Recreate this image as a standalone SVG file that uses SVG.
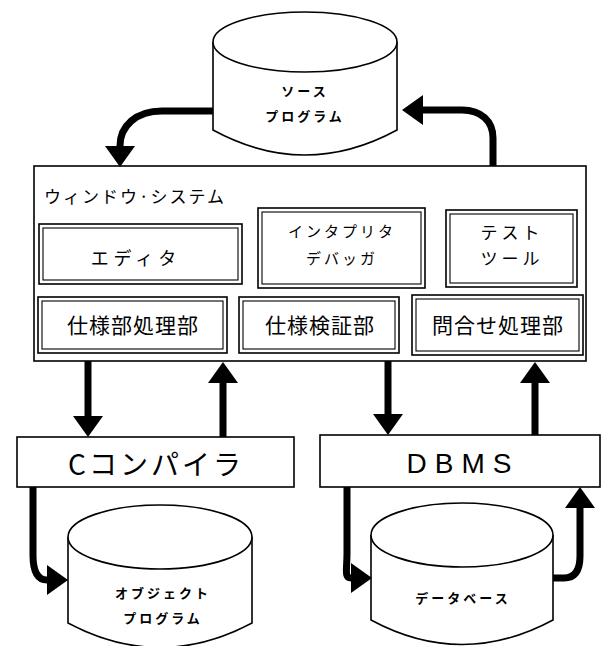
<svg xmlns="http://www.w3.org/2000/svg" width="608" height="646" viewBox="0 0 608 646">
<style>
.ln{fill:#fff;stroke:#000;stroke-width:1.6}
.lnn{fill:none;stroke:#000;stroke-width:1.6}
.in{fill:none;stroke:#000;stroke-width:1.1}
.t{font-family:"Noto Sans CJK JP","Liberation Sans",sans-serif;fill:#000;text-anchor:middle}
.s{font-size:13px;letter-spacing:3px;font-weight:700}
.m{font-size:15px;letter-spacing:3px}
.l{font-size:21px;letter-spacing:1px}
.arr{fill:none;stroke:#000;stroke-width:7}
</style>
<defs>
<marker id="ah" markerUnits="userSpaceOnUse" markerWidth="22" markerHeight="30" refX="0" refY="15" orient="auto" viewBox="0 0 22 30">
<path d="M0,0 L21,15 L0,30 z" fill="#000"/>
</marker>
</defs>

<g id="source">
<path class="ln" d="M213,42 V130 Q305,180 397,130 V42"/>
<ellipse class="ln" cx="305" cy="42" rx="92" ry="30"/>
<text class="t s" x="305" y="96">ソース</text>
<text class="t s" x="305" y="121">プログラム</text>
</g>

<g id="window">
<rect class="ln" x="34" y="166" width="552" height="195"/>
<text class="t" x="44" y="203" style="text-anchor:start;font-size:17px;letter-spacing:2px">ウィンドウ·システム</text>
</g>

<g id="editor">
<rect class="ln" x="39" y="224" width="203" height="60" stroke-width="2"/>
<rect class="in" x="43" y="228" width="195" height="52"/>
<text class="t" x="136" y="265" style="font-size:18px;letter-spacing:5px">エディタ</text>
</g>

<g id="interpreter">
<rect class="ln" x="258" y="208" width="167" height="80" stroke-width="2"/>
<rect class="in" x="262" y="212" width="159" height="72"/>
<text class="t m" x="342" y="237">インタプリタ</text>
<text class="t m" x="342" y="264">デバッガ</text>
</g>

<g id="testtool">
<rect class="ln" x="446" y="210" width="131" height="77" stroke-width="2"/>
<rect class="in" x="450" y="214" width="123" height="69"/>
<text class="t" x="512" y="239" style="font-size:17px;letter-spacing:4px">テスト</text>
<text class="t" x="512" y="265" style="font-size:17px;letter-spacing:4px">ツール</text>
</g>

<g id="spec">
<rect class="ln" x="38" y="297" width="189" height="56" stroke-width="2"/>
<rect class="in" x="42" y="301" width="181" height="48"/>
<text class="t l" x="133" y="333">仕様部処理部</text>
</g>

<g id="verify">
<rect class="ln" x="239" y="297" width="160" height="56" stroke-width="2"/>
<rect class="in" x="243" y="301" width="152" height="48"/>
<text class="t l" x="320" y="333">仕様検証部</text>
</g>

<g id="query">
<rect class="ln" x="412" y="295" width="171" height="60" stroke-width="2"/>
<rect class="in" x="416" y="299" width="163" height="52"/>
<text class="t l" x="498" y="333">問合せ処理部</text>
</g>

<g id="compiler">
<rect class="ln" x="17" y="437" width="277" height="50"/>
<text class="t" x="156" y="475" style="font-size:28px;letter-spacing:3px">Cコンパイラ</text>
</g>

<g id="dbms">
<rect class="ln" x="320" y="435" width="280" height="52"/>
<text class="t" x="463" y="473" style="font-family:'Liberation Sans',sans-serif;font-size:28px;letter-spacing:8px">DBMS</text>
</g>

<g id="object">
<path class="ln" d="M68,537 V623 Q160,672 252,623 V537"/>
<ellipse class="ln" cx="160" cy="537" rx="92" ry="32"/>
<text class="t s" x="163" y="598">オブジェクト</text>
<text class="t s" x="163" y="623">プログラム</text>
</g>

<g id="database">
<path class="ln" d="M371,535 V620 Q462,669 553,620 V535"/>
<ellipse class="ln" cx="462" cy="535" rx="91" ry="32"/>
<text class="t s" x="463" y="603">データベース</text>
</g>

<g id="connectors">
<path class="arr" marker-end="url(#ah)" d="M213,111 L162,111 C136,111 120,126 120,146"/>
<path class="arr" marker-end="url(#ah)" d="M493,166 L493,138 C493,121 481,110 462,110 L423,110"/>
<path class="arr" marker-end="url(#ah)" d="M88,361 L88,416"/>
<path class="arr" marker-end="url(#ah)" d="M223,437 L223,383"/>
<path class="arr" marker-end="url(#ah)" d="M388,361 L388,414"/>
<path class="arr" marker-end="url(#ah)" d="M535,435 L535,383"/>
<path class="arr" marker-end="url(#ah)" d="M33,487 L33,555 C33,572 38,580 47,580"/>
<path class="arr" marker-end="url(#ah)" d="M347,487 L347,553 C347,570 344,578 351,578"/>
<path class="arr" marker-end="url(#ah)" d="M553,578 L564,578 C575,578 580,570 580,556 L580,508"/>
</g>
</svg>
